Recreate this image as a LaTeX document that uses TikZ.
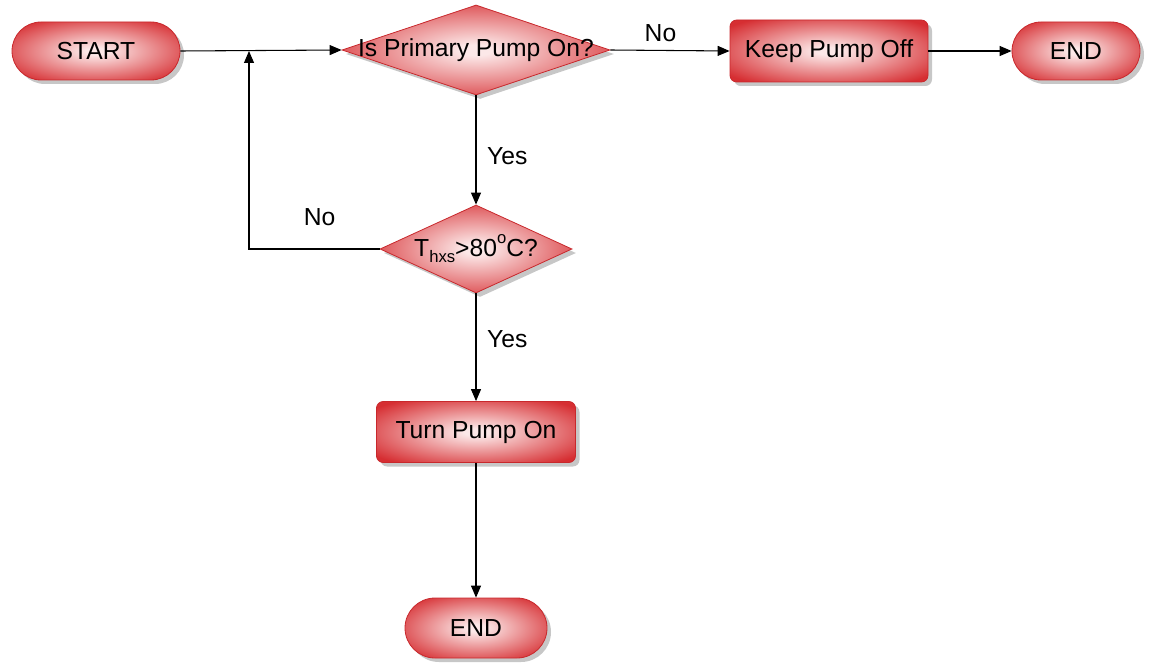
\documentclass[tikz,border=0pt]{standalone}
\usepackage{fontspec}
\setmainfont{Liberation Sans}
\usetikzlibrary{shapes.geometric,shapes.misc,arrows.meta,shadows}
\definecolor{outred}{RGB}{214,46,50}
\definecolor{inred}{RGB}{252,232,232}
\definecolor{edgered}{RGB}{200,40,44}
\pgfdeclareradialshading{flowrad}{\pgfpoint{0bp}{0bp}}{color(0bp)=(inred); color(3bp)=(inred); color(32bp)=(outred); color(70bp)=(outred)}
\tikzset{
  every node/.style={font=\fontsize{18.5}{22}\selectfont},
  boxbase/.style={shading=flowrad, draw=edgered, line width=0.6pt,
     drop shadow={shadow xshift=3pt, shadow yshift=-3pt, opacity=0.22, fill=black},
     inner sep=0pt},
  pill/.style={boxbase, rounded rectangle},
  procbox/.style={boxbase, rectangle, rounded corners=5pt},
  decision/.style={boxbase, diamond, aspect=2.9},
  conn/.style={line width=0.8pt, -{Triangle[length=9pt,width=7.5pt]}},
  lbl/.style={inner sep=0pt}
}
\begin{document}
\begin{tikzpicture}[x=0.75pt,y=-0.75pt]
\useasboundingbox (0,0) rectangle (1151,663);
\node[pill, minimum width=126pt, minimum height=43.5pt] (start) at (96,51) {START};
\node[decision, minimum width=201pt, minimum height=67.5pt] (d1) at (476,50) {\makebox[0pt]{\raisebox{-2pt}{Is Primary Pump On?}}};
\node[procbox, minimum width=148.5pt, minimum height=46.5pt] (keep) at (829,51) {Keep Pump Off};
\node[pill, minimum width=96pt, minimum height=43.5pt] (end1) at (1076,51) {END};
\node[decision, minimum width=144pt, minimum height=66pt] (d2) at (476,249) {\makebox[0pt]{T\raisebox{-0.45ex}{\fontsize{12.5}{13}\selectfont hxs}>80\raisebox{1.0ex}{\fontsize{12.5}{13}\selectfont o}C?}};
\node[procbox, minimum width=149.25pt, minimum height=45.75pt] (turn) at (476,432) {Turn Pump On};
\node[pill, minimum width=106.5pt, minimum height=45pt] (end2) at (476,628) {END};
\coordinate (join) at (249,51);

\draw[conn] (start.east) -- (d1.west);
\draw[conn] (d1.east) -- node[lbl, pos=0.42, above=6pt] {No} (keep.west);
\draw[conn] (keep.east) -- (end1.west);
\draw[conn] (d1.south) -- node[lbl, pos=0.56, right=8pt] {Yes} (d2.north);
\draw[conn] (d2.west) -| node[lbl, pos=0.23, above=17pt] {No} (join);
\draw[conn] (d2.south) -- node[lbl, pos=0.42, right=8pt] {Yes} (turn.north);
\draw[conn] (turn.south) -- (end2.north);
\end{tikzpicture}
\end{document}
